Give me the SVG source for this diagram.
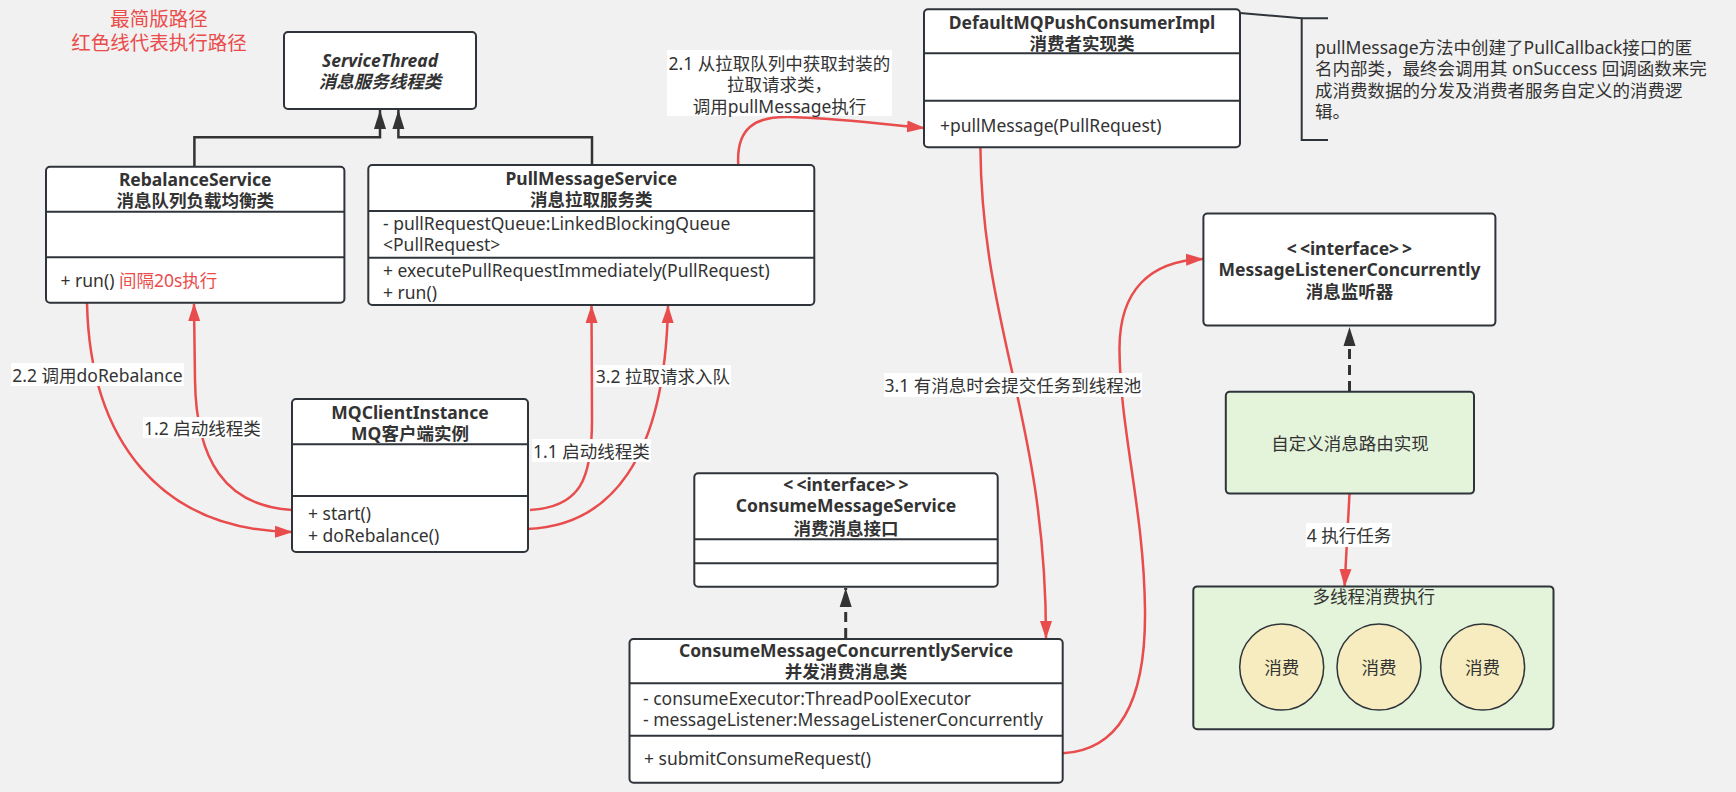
<svg xmlns="http://www.w3.org/2000/svg" width="1736" height="792" viewBox="0 0 1736 792">
<defs>
<style>
text { font-family: "Noto Sans", "Noto Sans CJK SC", sans-serif; fill: #333; font-size: 17.5px; dominant-baseline: central; }
.b { font-weight: bold; }
.i { font-style: italic; }
.c { text-anchor: middle; }
.box { fill: #fff; stroke: #2f343a; stroke-width: 2; }
.grn { fill: #e3f4da; stroke: #2f343a; stroke-width: 2; }
.yel { fill: #f6ecbf; stroke: #2f343a; stroke-width: 1.5; }
.sep { stroke: #2f343a; stroke-width: 2; }
.red { fill: none; stroke: #e84c4c; stroke-width: 2.5; }
.inh { fill: none; stroke: #333; stroke-width: 2.5; }
.dash { fill: none; stroke: #333; stroke-width: 3; stroke-dasharray: 10 6; }
.lbl { fill: #fff; }
.rt { fill: #ea4c4c; }
</style>
<marker id="ar" markerUnits="userSpaceOnUse" markerWidth="18" markerHeight="14" refX="17" refY="7" orient="auto"><path d="M0,1 L18,7 L0,13 z" fill="#e84c4c"/></marker>
<marker id="tri" markerUnits="userSpaceOnUse" markerWidth="20" markerHeight="14" refX="19" refY="7" orient="auto"><path d="M0,1 L19,7 L0,13 z" fill="#333"/></marker>
</defs>
<rect x="0" y="0" width="1736" height="792" fill="#f1f1f1"/>

<g id="title">
<text class="c rt" x="159" y="18" style="font-size:19.5px;fill:#ea4c4c">最简版路径</text>
<text class="c rt" x="159" y="42" style="font-size:19.5px;fill:#ea4c4c">红色线代表执行路径</text>
</g>

<g id="connectors">
<path class="inh" d="M194.4,166 V137.3 H380 V110" marker-end="url(#tri)"/>
<path class="inh" d="M592,165 V137.3 H398.4 V110" marker-end="url(#tri)"/>
<path class="dash" d="M845.7,638 V588" marker-end="url(#tri)"/>
<path class="dash" d="M1349.5,391 V327" marker-end="url(#tri)"/>
<path class="red" d="M292,510 C225,506 196,460 195,380 L194,304" marker-end="url(#ar)"/>
<path class="red" d="M87,303 C90,440 160,530 292,532" marker-end="url(#ar)"/>
<path class="red" d="M530,510 C580,507 592,480 592,420 L591.5,306" marker-end="url(#ar)"/>
<path class="red" d="M527,529 C610,526 665,460 668,306" marker-end="url(#ar)"/>
<path class="red" d="M738.3,165 C736,128 755,116 790,117 C850,119 890,125 924,128" marker-end="url(#ar)"/>
<path class="red" d="M980.4,148 C982,330 1046,420 1046,638" marker-end="url(#ar)"/>
<path class="red" d="M1062.7,753.3 C1120,750 1146,700 1145,610 C1144,510 1120,430 1119.5,350 C1119,290 1150,261 1203,259" marker-end="url(#ar)"/>
<path class="red" d="M1349.5,493.6 L1344.6,586" marker-end="url(#ar)"/>
<path d="M1240,13 L1301.7,18.3" fill="none" stroke="#2f343a" stroke-width="2"/>
</g>

<g id="labels">
<rect class="lbl" x="667" y="50" width="225" height="66"/>
<text class="c" x="779.5" y="62.5">2.1 从拉取队列中获取封装的</text>
<text class="c" x="779.5" y="84">拉取请求类，</text>
<text class="c" x="779.5" y="105.5">调用pullMessage执行</text>
<rect class="lbl" x="11" y="363" width="173" height="23"/>
<text class="c" x="97.5" y="374.5">2.2 调用doRebalance</text>
<rect class="lbl" x="143" y="417" width="119" height="21"/>
<text class="c" x="202.5" y="427.5">1.2 启动线程类</text>
<rect class="lbl" x="532" y="439" width="119" height="23"/>
<text class="c" x="591.5" y="450.5">1.1 启动线程类</text>
<rect class="lbl" x="595" y="365" width="136" height="22"/>
<text class="c" x="663" y="376">3.2 拉取请求入队</text>
<rect class="lbl" x="884" y="373" width="258" height="24"/>
<text class="c" x="1013" y="385">3.1 有消息时会提交任务到线程池</text>
<rect class="lbl" x="1306" y="523" width="86" height="24"/>
<text class="c" x="1349" y="535">4 执行任务</text>
</g>

<g id="ServiceThread">
<rect class="box" x="284" y="32" width="192" height="77" rx="4"/>
<text class="c b i" x="380" y="60">ServiceThread</text>
<text class="c b i" x="380" y="81">消息服务线程类</text>
</g>

<g id="RebalanceService">
<rect class="box" x="46" y="166.7" width="298.4" height="136" rx="4"/>
<line class="sep" x1="46" y1="211.7" x2="344.4" y2="211.7"/>
<line class="sep" x1="46" y1="257.3" x2="344.4" y2="257.3"/>
<text class="c b" x="195.2" y="179">RebalanceService</text>
<text class="c b" x="195.2" y="200">消息队列负载均衡类</text>
<text x="60.5" y="280">+ run() <tspan style="fill:#ea4c4c">间隔20s执行</tspan></text>
</g>

<g id="PullMessageService">
<rect class="box" x="368.3" y="165" width="446" height="140" rx="4"/>
<line class="sep" x1="368.3" y1="211" x2="814.3" y2="211"/>
<line class="sep" x1="368.3" y1="257.7" x2="814.3" y2="257.7"/>
<text class="c b" x="591.3" y="178.3">PullMessageService</text>
<text class="c b" x="591.3" y="199.3">消息拉取服务类</text>
<text x="383" y="222.7">- pullRequestQueue:LinkedBlockingQueue</text>
<text x="383" y="244.3">&lt;PullRequest&gt;</text>
<text x="383" y="270">+ executePullRequestImmediately(PullRequest)</text>
<text x="383" y="291.7">+ run()</text>
</g>

<g id="MQClientInstance">
<rect class="box" x="292" y="399" width="236" height="153" rx="4"/>
<line class="sep" x1="292" y1="444.3" x2="528" y2="444.3"/>
<line class="sep" x1="292" y1="496" x2="528" y2="496"/>
<text class="c b" x="410" y="412">MQClientInstance</text>
<text class="c b" x="410" y="433">MQ客户端实例</text>
<text x="308" y="513">+ start()</text>
<text x="308" y="535">+ doRebalance()</text>
</g>

<g id="DefaultMQPushConsumerImpl">
<rect class="box" x="924" y="9.3" width="316" height="138" rx="4"/>
<line class="sep" x1="924" y1="53.3" x2="1240" y2="53.3"/>
<line class="sep" x1="924" y1="100.7" x2="1240" y2="100.7"/>
<text class="c b" x="1082" y="21.7">DefaultMQPushConsumerImpl</text>
<text class="c b" x="1082" y="43.3">消费者实现类</text>
<text x="940" y="125">+pullMessage(PullRequest)</text>
</g>

<g id="note">
<path d="M1328,18.3 H1301.7 V140 H1328" fill="none" stroke="#2f343a" stroke-width="2"/>
<text x="1315" y="46.5">pullMessage方法中创建了PullCallback接口的匿</text>
<text x="1315" y="68">名内部类，最终会调用其 onSuccess 回调函数来完</text>
<text x="1315" y="89.5">成消费数据的分发及消费者服务自定义的消费逻</text>
<text x="1315" y="111">辑。</text>
</g>

<g id="ConsumeMessageService">
<rect class="box" x="694.3" y="473.3" width="303.4" height="113.4" rx="4"/>
<line class="sep" x1="694.3" y1="539.3" x2="997.7" y2="539.3"/>
<line class="sep" x1="694.3" y1="563.3" x2="997.7" y2="563.3"/>
<text class="c b" x="846" y="484">&lt;<tspan dx="3">&lt;interface&gt;</tspan><tspan dx="3">&gt;</tspan></text>
<text class="c b" x="846" y="505">ConsumeMessageService</text>
<text class="c b" x="846" y="528.3">消费消息接口</text>
</g>

<g id="ConsumeMessageConcurrentlyService">
<rect class="box" x="629.5" y="639" width="433.2" height="143.7" rx="4"/>
<line class="sep" x1="629.5" y1="683.3" x2="1062.7" y2="683.3"/>
<line class="sep" x1="629.5" y1="735.7" x2="1062.7" y2="735.7"/>
<text class="c b" x="846" y="650">ConsumeMessageConcurrentlyService</text>
<text class="c b" x="846" y="670.7">并发消费消息类</text>
<text x="643" y="698.3">- consumeExecutor:ThreadPoolExecutor</text>
<text x="643" y="719.3">- messageListener:MessageListenerConcurrently</text>
<text x="644" y="758.3">+ submitConsumeRequest()</text>
</g>

<g id="MessageListenerConcurrently">
<rect class="box" x="1203.4" y="213.6" width="292" height="112" rx="4"/>
<text class="c b" x="1349.5" y="248.2">&lt;<tspan dx="3">&lt;interface&gt;</tspan><tspan dx="3">&gt;</tspan></text>
<text class="c b" x="1349.5" y="268.8">MessageListenerConcurrently</text>
<text class="c b" x="1349.5" y="291">消息监听器</text>
</g>

<g id="CustomImpl">
<rect class="grn" x="1225.8" y="391.8" width="248.2" height="101.8" rx="4"/>
<text class="c" x="1349.9" y="442.9">自定义消息路由实现</text>
</g>

<g id="ThreadPool">
<rect class="grn" x="1193.3" y="586.4" width="360.2" height="142.9" rx="4"/>
<text class="c" x="1373.8" y="596.4">多线程消费执行</text>
</g>
<g id="consume1"><ellipse class="yel" cx="1281.7" cy="667" rx="42" ry="43"/><text class="c" x="1281.7" y="667">消费</text></g>
<g id="consume2"><ellipse class="yel" cx="1379" cy="667" rx="42" ry="43"/><text class="c" x="1379" y="667">消费</text></g>
<g id="consume3"><ellipse class="yel" cx="1482.6" cy="667" rx="42" ry="43"/><text class="c" x="1482.6" y="667">消费</text></g>
</svg>
